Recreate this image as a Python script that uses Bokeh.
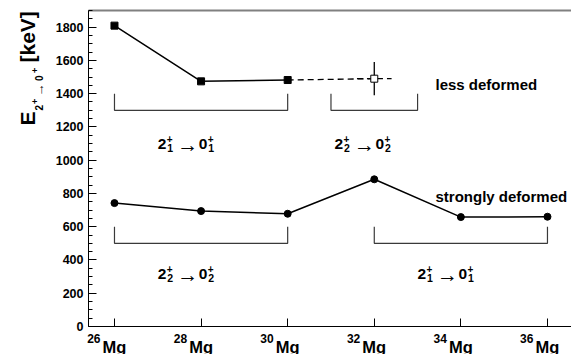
import math
from bokeh.plotting import figure
from bokeh.models import Range1d, SingleIntervalTicker, FixedTicker, LinearAxis
from bokeh.core.properties import value
from bokeh.embed import file_html
from bokeh.resources import INLINE

# ---------------- data ----------------
masses = [26, 28, 30, 32, 34, 36]
mass_labels = ["26", "28", "30", "32", "34", "36"]

# less deformed (2+1 -> 0+1 for 26-30), filled squares
less_x = [26, 28, 30]
less_y = [1809, 1474, 1482]
# 32Mg 2+2 -> 0+2 (open square with error)
open_x = [32]
open_y = [1490]
open_yerr = [100]
open_xerr = [0.4]
dash_x = [30, 32]
dash_y = [1482, 1490]

# strongly deformed, filled circles
strong_x = [26, 28, 30, 32, 34, 36]
strong_y = [742, 694, 678, 885, 658, 660]

# brackets: (x start, x end, y top, y bottom)
br_x0 = [26, 31, 26, 32]
br_x1 = [30, 33, 30, 36]
br_top = [1400, 1400, 600, 600]
br_bot = [1300, 1300, 500, 500]

# bracket labels: (x, y, state index)
lab_x = [27.0, 31.08, 27.0, 33.0]
lab_y = [1095, 1095, 313, 313]
lab_idx = ["1", "2", "2", "1"]

FONT = "Liberation Sans"

# ---------------- geometry ----------------
W, H = 571, 354
AX_L, AX_T, AX_B = 88, 10, 326          # pixel position of axes / top frame
XA0, XA1 = 25.4, 36.555                 # axis x range
YA0, YA1 = 0, 1900                      # axis y range
kx = (W - AX_L) / (XA1 - XA0)
ky = (AX_B - AX_T) / (YA1 - YA0)
X0 = XA0 - AX_L / kx
X1 = XA1
Y0 = YA0 - (H - AX_B) / ky
Y1 = YA1 + AX_T / ky


def px2x(px):
    return X0 + px / kx


def px2y(py):
    return Y0 + (H - py) / ky


p = figure(width=W, height=H, output_backend="svg", toolbar_location=None,
           x_range=Range1d(X0, X1), y_range=Range1d(Y0, Y1),
           min_border_left=0, min_border_top=0, min_border_bottom=0,
           min_border_right=0)
p.background_fill_color = "white"
p.border_fill_color = "white"
p.outline_line_color = None
p.grid.visible = False

# y axis
ya = p.yaxis[0]
ya.fixed_location = XA0
ya.bounds = (YA0, YA1)
ya.ticker = SingleIntervalTicker(interval=200, num_minor_ticks=4)
ya.major_tick_in = 8
ya.major_tick_out = 0
ya.minor_tick_in = 4
ya.minor_tick_out = 0
ya.axis_line_color = "black"
ya.major_tick_line_color = "black"
ya.minor_tick_line_color = "black"
ya.major_label_text_font = FONT
ya.major_label_text_font_style = "bold"
ya.major_label_text_font_size = "12.5px"
ya.major_label_text_color = "black"
ya.major_label_standoff = 5

# x axis
xa = p.xaxis[0]
xa.fixed_location = YA0
xa.bounds = (XA0, XA1)
xa.ticker = FixedTicker(ticks=masses, minor_ticks=[])
xa.major_tick_in = 8
xa.major_tick_out = 0
xa.minor_tick_in = 0
xa.minor_tick_out = 0
xa.axis_line_color = "black"
xa.major_tick_line_color = "black"
xa.major_label_overrides = {m: "Mg" for m in masses}
xa.major_label_text_font = FONT
xa.major_label_text_font_style = "bold"
xa.major_label_text_font_size = "16.5px"
xa.major_label_text_color = "black"
xa.major_label_standoff = 11

# top frame line as an axis without ticks
top = LinearAxis(fixed_location=YA1, bounds=(XA0, XA1), ticker=FixedTicker(ticks=[]),
                 axis_line_color="#808080", axis_line_width=2,
                 major_tick_line_color=None, minor_tick_line_color=None)
p.add_layout(top, "above")

# brackets
bx, by = [], []
for a, b, t, u in zip(br_x0, br_x1, br_top, br_bot):
    bx.append([a, a, b, b])
    by.append([t, u, u, t])
p.multi_line(bx, by, line_color="#3a3a3a", line_width=1.2)

# series
p.line(less_x, less_y, line_color="black", line_width=1.5)
p.line(dash_x, dash_y, line_color="black", line_width=1.3, line_dash="6 4")
p.scatter(less_x, less_y, marker="square", size=7, fill_color="black", line_color="black")

ex0 = [x - e for x, e in zip(open_x, open_xerr)]
ex1 = [x + e for x, e in zip(open_x, open_xerr)]
ey0 = [y - e for y, e in zip(open_y, open_yerr)]
ey1 = [y + e for y, e in zip(open_y, open_yerr)]
p.segment(x0=open_x, y0=ey0, x1=open_x, y1=ey1, line_color="black", line_width=1.3)
p.segment(x0=ex0, y0=open_y, x1=ex1, y1=open_y, line_color="black", line_width=1.3,
          line_dash="6 4")
p.scatter(open_x, open_y, marker="square", size=7, fill_color="white", line_color="black",
          line_width=1)

p.line(strong_x, strong_y, line_color="black", line_width=1.5)
p.scatter(strong_x, strong_y, marker="circle", size=7, fill_color="black", line_color="black")

common = dict(text_font=value(FONT), text_color="black", text_baseline="alphabetic")


# bracket labels  2^+_i -> 0^+_i
def trans_label(x, y, i):
    p.text([x], [y], text=["2"], text_font_size="15.5px", text_font_style="bold",
           text_align="left", **common)
    p.text([x], [y], text=["+"], x_offset=9, y_offset=-5.5, text_font_size="10px",
           text_font_style="bold", text_align="left", **common)
    p.text([x], [y], text=[i], x_offset=9.5, y_offset=4, text_font_size="10.5px",
           text_font_style="bold", text_align="left", **common)
    p.text([x], [y], text=["\u2192"], x_offset=19.5, y_offset=0, text_font_size="21px",
           text_font_style="normal", text_align="left", **common)
    p.text([x], [y], text=["0"], x_offset=41, text_font_size="15.5px",
           text_font_style="bold", text_align="left", **common)
    p.text([x], [y], text=["+"], x_offset=50, y_offset=-5.5, text_font_size="10px",
           text_font_style="bold", text_align="left", **common)
    p.text([x], [y], text=[i], x_offset=50.5, y_offset=4, text_font_size="10.5px",
           text_font_style="bold", text_align="left", **common)


for x, y, i in zip(lab_x, lab_y, lab_idx):
    trans_label(x, y, i)

# side texts
p.text([px2x(435)], [px2y(84)], text=["less deformed"], text_font_size="15px",
       text_font_style="bold", text_align="left", **common)
p.text([px2x(435)], [px2y(196)], text=["strongly deformed"], text_font_size="15px",
       text_font_style="bold", text_align="left", **common)

# mass-number superscripts on the x tick labels
p.text(masses, [px2y(338)] * len(masses), text=mass_labels, x_offset=-14,
       text_font_size="12px", text_font_style="bold", text_align="right", **common)

# y axis title  E_{2^+ -> 0^+} [keV], rotated
ypieces = [
    ("E", 27, 125, "21px", "bold"),
    ("2", 38, 110, "10px", "bold"),
    ("+", 34, 103.5, "9px", "bold"),
    ("\u2192", 39, 96, "13px", "normal"),
    ("0", 38, 80.5, "10px", "bold"),
    ("+", 34, 72.5, "9px", "bold"),
    ("[keV]", 27, 62, "21px", "bold"),
]
for t, bxp, byp, fs, st in ypieces:
    p.text([px2x(bxp)], [px2y(byp)], text=[t], angle=math.pi / 2, text_font_size=fs,
           text_font_style=st, text_align="left", **common)

open("out.html", "w").write(file_html(p, INLINE))
